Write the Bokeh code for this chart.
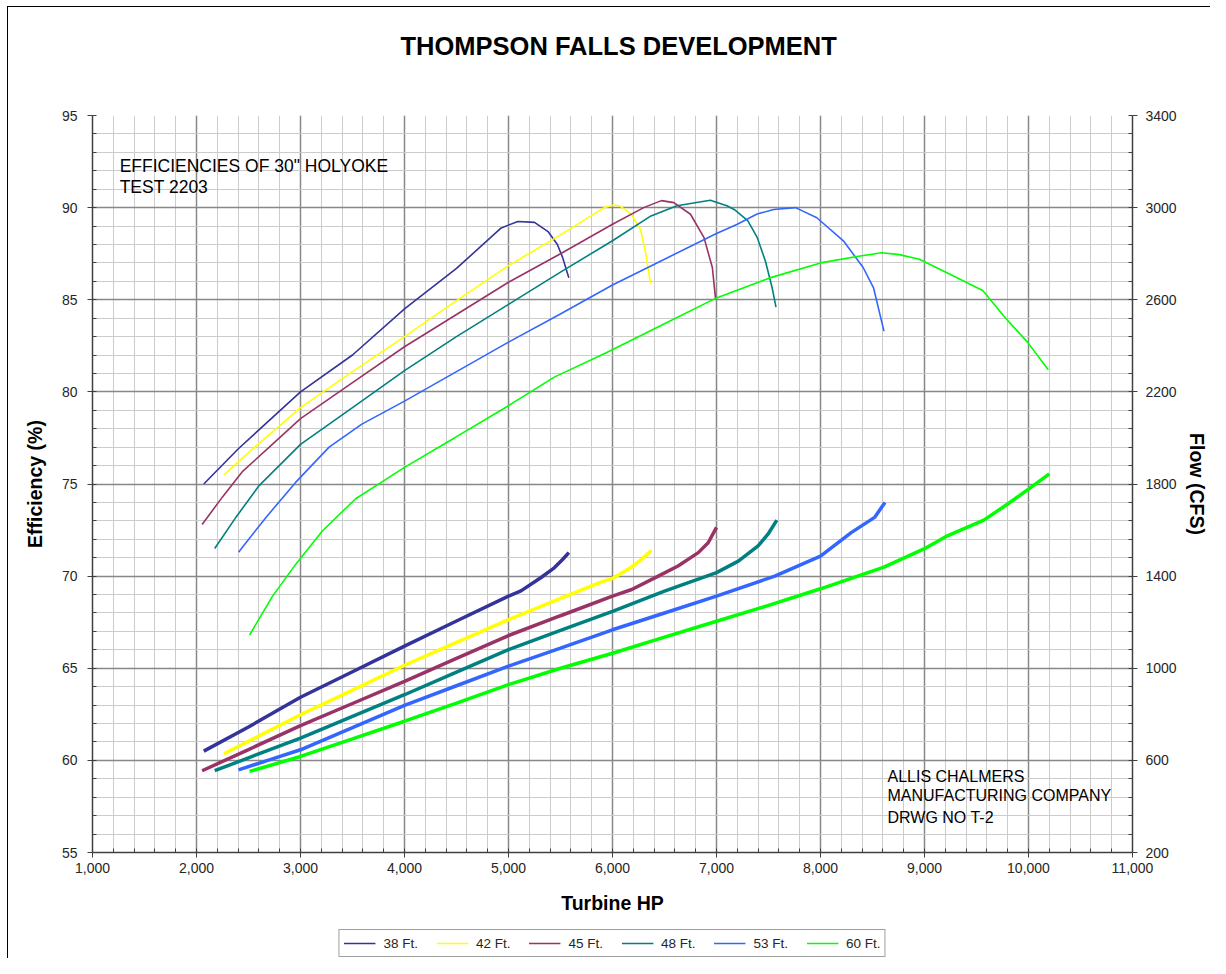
from bokeh.plotting import figure
from bokeh.layouts import column
from bokeh.models import (Range1d, LinearAxis, FixedTicker, NumeralTickFormatter,
                          Legend, LegendItem, Label, Title)
from bokeh.embed import file_html
from bokeh.resources import INLINE

# ---------------- data ----------------
series_names = ["38 Ft.", "42 Ft.", "45 Ft.", "48 Ft.", "53 Ft.", "60 Ft."]
series_colors = ["#333399", "#FFFF00", "#993366", "#008080", "#3366FF", "#00FF00"]

# efficiency curves (left axis, %)
eff38_hp = [2070, 2400, 3000, 3500, 4000, 4500, 4930, 5090, 5250, 5380, 5470, 5520, 5580]
eff38 = [75.0, 76.9, 80.0, 82.0, 84.5, 86.7, 88.9, 89.25, 89.2, 88.7, 88.0, 87.3, 86.2]

eff42_hp = [2264, 2500, 3000, 3500, 4000, 4500, 5000, 5480, 5920, 6000, 6070, 6180, 6270, 6320, 6365]
eff42 = [75.5, 76.7, 79.15, 81.1, 83.0, 84.95, 86.85, 88.45, 90.0, 90.13, 90.1, 89.65, 88.8, 87.5, 85.9]

eff45_hp = [2054, 2250, 2446, 2700, 3000, 3500, 4000, 4500, 5000, 5500, 6000, 6300, 6470, 6590, 6750, 6880, 6960, 6990]
eff45 = [72.8, 74.3, 75.7, 77.0, 78.55, 80.5, 82.45, 84.2, 85.95, 87.5, 89.1, 90.0, 90.38, 90.27, 89.64, 88.37, 86.75, 85.1]

eff48_hp = [2175, 2380, 2600, 3000, 3500, 4000, 4500, 5000, 5500, 6000, 6370, 6620, 6940, 7100, 7170, 7300, 7390, 7470, 7535, 7572]
eff48 = [71.5, 73.2, 74.9, 77.15, 79.15, 81.15, 83.0, 84.75, 86.5, 88.2, 89.55, 90.1, 90.4, 90.1, 89.9, 89.3, 88.4, 87.1, 85.65, 84.6]

eff53_hp = [2404, 2670, 2955, 3275, 3590, 4000, 4500, 5000, 5490, 6000, 6500, 7000, 7200, 7390, 7550, 7760, 7965, 8220, 8410, 8510, 8610]
eff53 = [71.3, 73.2, 75.1, 77.0, 78.25, 79.5, 81.1, 82.7, 84.2, 85.8, 87.2, 88.6, 89.1, 89.65, 89.9, 90.0, 89.45, 88.2, 86.75, 85.65, 83.3]

eff60_hp = [2510, 2730, 2955, 3210, 3530, 3780, 4000, 4480, 5000, 5440, 5950, 6500, 7000, 7520, 8000, 8350, 8590, 8760, 8950, 9240, 9560, 9780, 9990, 10190]
eff60 = [66.8, 68.9, 70.65, 72.45, 74.2, 75.1, 75.9, 77.5, 79.25, 80.8, 82.15, 83.7, 85.1, 86.2, 87.0, 87.35, 87.55, 87.45, 87.2, 86.4, 85.5, 84.0, 82.7, 81.2]

# flow curves (right axis, CFS)
flow38_hp = [2070, 2500, 3000, 3500, 4000, 4500, 5000, 5120, 5310, 5440, 5520, 5580]
flow38 = [640, 745, 874, 985, 1096, 1205, 1313, 1336, 1393, 1436, 1472, 1502]

flow42_hp = [2264, 2500, 3000, 3500, 4000, 4500, 5000, 5500, 5870, 6000, 6185, 6280, 6375]
flow42 = [629, 683, 798, 905, 1013, 1112, 1211, 1303, 1371, 1390, 1440, 1473, 1512]

flow45_hp = [2054, 2500, 3000, 3500, 4000, 4500, 5000, 5500, 6000, 6185, 6440, 6630, 6825, 6920, 7000]
flow45 = [555, 647, 751, 847, 943, 1043, 1142, 1228, 1313, 1342, 1400, 1444, 1502, 1545, 1612]

flow48_hp = [2175, 2500, 3000, 3500, 4000, 4500, 5000, 5500, 6000, 6500, 7000, 7210, 7400, 7495, 7580]
flow48 = [555, 611, 697, 791, 885, 983, 1081, 1164, 1247, 1335, 1415, 1465, 1531, 1582, 1643]

flow53_hp = [2404, 2700, 3000, 3500, 4000, 4500, 5000, 5500, 6000, 6500, 7000, 7560, 8000, 8295, 8520, 8620]
flow53 = [559, 602, 646, 742, 839, 924, 1009, 1087, 1167, 1240, 1313, 1400, 1487, 1589, 1655, 1720]

flow60_hp = [2510, 3000, 3500, 4000, 4500, 5000, 5500, 6000, 6500, 7000, 7500, 8000, 8610, 9000, 9220, 9570, 9800, 10000, 10200]
flow60 = [552, 617, 693, 770, 849, 929, 1000, 1065, 1135, 1204, 1273, 1345, 1439, 1519, 1575, 1643, 1713, 1778, 1844]

x_ticks = list(range(1000, 11001, 1000))
y_ticks = list(range(55, 96, 5))
flow_ticks = list(range(200, 3401, 400))

eff_series = [(eff38_hp, eff38), (eff42_hp, eff42), (eff45_hp, eff45),
              (eff48_hp, eff48), (eff53_hp, eff53), (eff60_hp, eff60)]
flow_series = [(flow38_hp, flow38), (flow42_hp, flow42), (flow45_hp, flow45),
               (flow48_hp, flow48), (flow53_hp, flow53), (flow60_hp, flow60)]

FONT = "Liberation Sans"

# ---------------- main chart ----------------
p = figure(width=1202, height=921,
           x_range=Range1d(1000, 11000), y_range=Range1d(55, 95),
           output_backend="svg", toolbar_location=None,
           min_border_left=84, min_border_right=75,
           min_border_top=108, min_border_bottom=76)
p.outline_line_color = None
p.background_fill_color = "white"
p.border_fill_color = "white"
p.extra_y_ranges = {"flow": Range1d(200, 3400)}

# real title (outermost) + an empty spacer title next to the frame
p.title.text = "THOMPSON FALLS DEVELOPMENT"
p.title.align = "left"
p.title.offset = 308
p.title.vertical_align = "top"
p.title.standoff = 0
p.title.text_font = FONT
p.title.text_font_size = "25.5px"
p.title.text_font_style = "bold"
p.title.text_color = "black"
p.add_layout(Title(text="\u00a0", text_font_size="10px", standoff=41), "above")

# axes
p.xaxis.ticker = FixedTicker(ticks=x_ticks, minor_ticks=list(range(1000, 11001, 200)))
p.xaxis.formatter = NumeralTickFormatter(format="0,0")
p.yaxis.ticker = FixedTicker(ticks=y_ticks, minor_ticks=list(range(55, 96, 1)))

right = LinearAxis(y_range_name="flow",
                   ticker=FixedTicker(ticks=flow_ticks, minor_ticks=list(range(200, 3401, 80))))
p.add_layout(right, "right")

for ax in [p.xaxis[0], p.yaxis[0], right]:
    ax.axis_line_color = "#404040"
    ax.axis_line_width = 1.5
    ax.major_tick_line_color = "#404040"
    ax.minor_tick_line_color = "#404040"
    ax.major_tick_out = 5
    ax.major_tick_in = 0
    ax.minor_tick_out = 0
    ax.minor_tick_in = 4
    ax.major_label_text_font = FONT
    ax.major_label_text_font_size = "14px"
    ax.major_label_text_color = "#262626"
    ax.axis_label_text_font = FONT
    ax.axis_label_text_font_size = "19.5px"
    ax.axis_label_text_font_style = "bold"
    ax.axis_label_text_color = "black"

p.xaxis.axis_label = "Turbine HP"
p.xaxis.major_label_standoff = 5
p.xaxis.axis_label_standoff = 16
p.yaxis.axis_label = "Efficiency (%)"
p.yaxis.major_label_standoff = 10
p.yaxis.axis_label_standoff = 13
right.axis_label = "Flow (CFS)"
right.major_label_standoff = 8
right.axis_label_standoff = 6

# grids
for g in [p.xgrid[0], p.ygrid[0]]:
    g.grid_line_color = "#888888"
    g.grid_line_width = 1.5
    g.minor_grid_line_color = "#cccccc"
    g.minor_grid_line_width = 1

# lines
for color, (ex, ey), (fx, fy) in zip(series_colors, eff_series, flow_series):
    p.line(ex, ey, line_color=color, line_width=1.6)
    p.line(fx, fy, line_color=color, line_width=3.5, y_range_name="flow")

# texts
p.add_layout(Label(x=1261, y=92.26, text='EFFICIENCIES OF 30" HOLYOKE',
                   text_font=FONT, text_font_size="17.5px", text_color="black",
                   text_baseline="alphabetic"))
p.add_layout(Label(x=1261, y=91.12, text="TEST 2203",
                   text_font=FONT, text_font_size="17.5px", text_color="black",
                   text_baseline="alphabetic"))
for txt, yy in [("ALLIS CHALMERS", 59.13), ("MANUFACTURING COMPANY", 58.10), ("DRWG NO T-2", 56.92)]:
    p.add_layout(Label(x=8644, y=yy, text=txt,
                       text_font=FONT, text_font_size="16px", text_color="black",
                       text_baseline="alphabetic"))

# ---------------- legend strip ----------------
lg = figure(width=1202, height=30, x_range=Range1d(0, 1), y_range=Range1d(0, 1),
            x_axis_type=None, y_axis_type=None,
            output_backend="svg", toolbar_location=None,
            min_border_left=0, min_border_right=0, min_border_top=0, min_border_bottom=0)
lg.grid.visible = False
lg.outline_line_color = None
items = []
for name, color in zip(series_names, series_colors):
    r = lg.line([5, 6], [5, 6], line_color=color, line_width=1.6)
    items.append(LegendItem(label=name, renderers=[r]))
legend = Legend(items=items, orientation="horizontal", location="center",
                label_text_font=FONT, label_text_font_size="13.5px", label_text_color="#262626",
                glyph_width=32, glyph_height=18, label_height=18, label_standoff=8,
                spacing=18, padding=4, margin=0,
                border_line_color="#404040", border_line_width=1,
                background_fill_color="white", background_fill_alpha=1)
lg.add_layout(legend, "center")

inner = column(p, lg, spacing=0,
               styles={"border-left": "1px solid black", "border-top": "1px solid black"})
page = column(inner, spacing=0, styles={"padding-left": "7px", "padding-top": "6px"})

open("out.html", "w").write(file_html(page, INLINE))
